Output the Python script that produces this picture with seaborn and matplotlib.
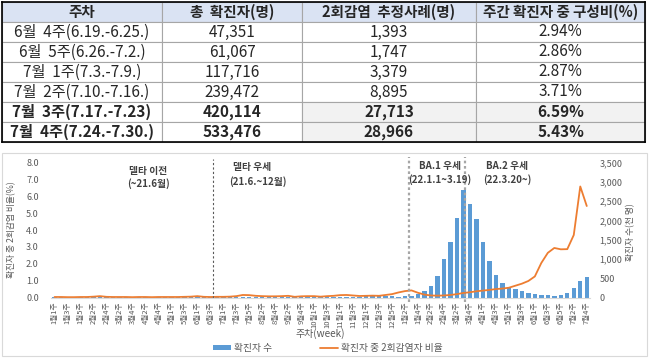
import matplotlib
matplotlib.use("Agg")
import matplotlib.pyplot as plt
import seaborn as sns
import numpy as np
import pandas as pd
from matplotlib.patches import Rectangle, Patch
from matplotlib.lines import Line2D

# ---------------- data ----------------
# table
table_headers = ["주차", "총  확진자(명)", "2회감염  추정사례(명)", "주간 확진자 중 구성비(%)"]
table_weeks = ["6월  4주(6.19.-6.25.)", "6월  5주(6.26.-7.2.)", "7월  1주(7.3.-7.9.)",
               "7월  2주(7.10.-7.16.)", "7월  3주(7.17.-7.23)", "7월  4주(7.24.-7.30.)"]
table_total = ["47,351", "61,067", "117,716", "239,472", "420,114", "533,476"]
table_reinf = ["1,393", "1,747", "3,379", "8,895", "27,713", "28,966"]
table_share = ["2.94%", "2.86%", "2.87%", "3.71%", "6.59%", "5.43%"]

# weeks per month (2021, 2022 up to July)
weeks_2021 = [5, 4, 4, 5, 4, 4, 5, 4, 5, 4, 4, 5]
weeks_2022 = [4, 4, 5, 4, 4, 5, 4]
week_labels = [f"{m}월{w}주" for counts in (weeks_2021, weeks_2022)
               for m, n in enumerate(counts, 1) for w in range(1, n + 1)]

# weekly confirmed cases (thousand)
cases_2021 = [6.9, 5.6, 3.8, 2.8, 3.3, 2.6, 2.6, 3.5, 2.8, 2.8,
              3.1, 3.1, 3.0, 3.4, 4.3, 4.4, 4.5, 4.4, 3.9, 4.0,
              3.9, 3.7, 3.9, 3.9, 3.2, 3.9, 5.0, 8.5, 10.5, 10.8,
              10.6, 10.4, 11.9, 12.7, 12.2, 11.5, 12.3, 12.5, 15.5, 17.8,
              13.5, 11.6, 10.5, 12.0, 15.0, 16.5, 19.9, 24.2, 31.9, 44.5,
              49.0, 45.0, 31.9]
cases_2022 = [21.7, 27.0, 41.0, 88.6, 163, 310, 560, 990, 1440, 2060,
              2790, 2430, 2040, 1440, 960, 575, 365, 265, 225, 175,
              125, 82, 68, 53, 47.351, 61.067, 117.716, 239.472, 420.114, 533.476]

# share of reinfection among confirmed (%)
ratio_2021 = [0.03, 0.03, 0.02, 0.02, 0.03, 0.03, 0.05, 0.08, 0.04, 0.03,
              0.03, 0.03, 0.02, 0.03, 0.03, 0.02, 0.03, 0.03, 0.03, 0.03,
              0.04, 0.05, 0.08, 0.04, 0.03, 0.04, 0.04,
              0.05, 0.08, 0.15, 0.14, 0.10, 0.08, 0.07, 0.07, 0.08, 0.10,
              0.04, 0.07, 0.08, 0.08, 0.05, 0.08, 0.10, 0.14, 0.15, 0.12,
              0.09, 0.10, 0.11, 0.10, 0.15, 0.20]
ratio_2022 = [0.30, 0.38, 0.42, 0.28, 0.17, 0.12, 0.11, 0.12, 0.15, 0.20,
              0.27, 0.31, 0.37, 0.41, 0.45, 0.50, 0.53, 0.58, 0.70, 0.82,
              0.98, 1.25, 2.05, 2.65, 2.94, 2.86, 2.87, 3.71, 6.59, 5.43]

period_names = ["델타 이전", "델타 우세", "BA.1 우세", "BA.2 우세"]
period_ranges = ["(~21.6월)", "(21.6.~12월)", "(22.1.1~3.19)", "(22.3.20~)"]

# ---------------- style ----------------
sns.set_style("white")
plt.rcParams['font.family'] = ['Noto Sans CJK KR', 'DejaVu Sans']

W, H = 650, 359
def fy(py):
    return 1 - py / H

BLUE = "#5B9BD5"
ORANGE = "#ED7D31"
GRAY = "#595959"

fig = plt.figure(figsize=(W / 100, H / 100), dpi=100)

# ---------------- table ----------------
axt = fig.add_axes([2 / W, fy(142), 643 / W, 140 / H])
axt.set_xticks([]); axt.set_yticks([])
for s in axt.spines.values():
    s.set_color("black"); s.set_linewidth(1.2); s.set_zorder(5)
rows = [list(r) for r in zip(table_weeks, table_total, table_reinf, table_share)]
colw = np.array([160, 140, 174, 169]) / 643
tbl = axt.table(cellText=rows, colLabels=table_headers, colWidths=colw,
                bbox=[0, 0, 1, 1], cellLoc='center')
tbl.auto_set_font_size(False)
tbl.set_fontsize(11)
for (r, c), cell in tbl.get_celld().items():
    cell.set_edgecolor("#a6a6a6")
    cell.set_linewidth(0.8)
    txt = cell.get_text()
    if r == 0:
        cell.set_facecolor("#dae3f3")
        txt.set_fontweight("bold")
        txt.set_fontsize(10.5)
    if r >= 5:
        txt.set_fontweight("bold")
        if c >= 2:
            cell.set_facecolor("#f2f2f2")

# ---------------- chart ----------------
df = pd.DataFrame({
    "week": np.arange(len(week_labels)),
    "label": week_labels,
    "cases": cases_2021 + cases_2022,
    "ratio": ratio_2021 + ratio_2022,
})

ax = fig.add_axes([51.3 / W, fy(297.5), (590 - 51.3) / W, (297.5 - 162.7) / H])
ax2 = ax.twinx()

sns.barplot(data=df, x="week", y="cases", ax=ax2, color=BLUE, width=0.68,
            saturation=1, linewidth=0)
sns.lineplot(data=df, x="week", y="ratio", ax=ax, color=ORANGE, lw=1.3)

ax.set_zorder(ax2.get_zorder() + 1)
ax.patch.set_visible(False)

ax.set_xlim(-0.5, len(week_labels) - 0.5)
ax.set_ylim(0, 8)
ax2.set_ylim(0, 3500)

ax.set_yticks(np.arange(0, 8.01, 1))
ax.set_yticklabels([f"{v:.1f}" for v in np.arange(0, 8.01, 1)])
ax2.set_yticks(np.arange(0, 3501, 500))
ax2.set_yticklabels([f"{v:,}" for v in range(0, 3501, 500)])
ax.tick_params(axis='y', length=0, labelsize=6.5, labelcolor=GRAY, pad=9)
ax2.tick_params(axis='y', length=0, labelsize=6.5, labelcolor=GRAY, pad=7)

ax.set_xticks(df["week"][::2])
ax.set_xticklabels(df["label"][::2], rotation=90)
ax.tick_params(axis='x', length=0, labelsize=5.5, labelcolor=GRAY, pad=3)

for a in (ax, ax2):
    for s in a.spines.values():
        s.set_visible(False)
ax.spines['bottom'].set_visible(True)
ax.spines['bottom'].set_color("#d9d9d9")
ax.spines['bottom'].set_linewidth(0.8)

ax.set_xlabel("")
ax2.set_xlabel("")
ax.set_ylabel("확진자 중 2회감염 비율(%)", fontsize=6.3, color=GRAY, rotation=90)
ax.yaxis.set_label_coords(-0.0655, 0.5)
ax2.set_ylabel("확진자 수(천 명)", fontsize=6.3, color=GRAY, rotation=90)
ax2.yaxis.set_label_coords(1.067, 0.486)

fig.text(320 / W, fy(334), "주차(week)", fontsize=7.2, color=GRAY, ha='center', va='center')

# period separators
ax.axvline(24.4, ymin=0, ymax=1.03, color="#595959", lw=0.8, ls=(0, (2, 2)), clip_on=False)
ax.axvline(54.6, ymin=-0.03, ymax=1.04, color="#a6a6a6", lw=1.6, ls=(0, (1.2, 1.2)), clip_on=False)
ax.axvline(63.3, ymin=-0.03, ymax=1.04, color="#a6a6a6", lw=1.6, ls=(0, (1.2, 1.2)), clip_on=False)

name_pos = [(14.4, 7.5), (30.4, 7.75), (59.4, 7.8), (69.7, 7.8)]
range_pos = [(14.4, 6.75), (31.4, 6.85), (59.3, 7.0), (69.8, 7.0)]
for (x, y), t in zip(name_pos, period_names):
    ax.text(x, y, t, fontsize=7, color="#404040", ha='center', va='center', fontweight='bold')
for (x, y), t in zip(range_pos, period_ranges):
    ax.text(x, y, t, fontsize=7, color="#404040", ha='center', va='center', fontweight='bold')

# legend
handles = [Patch(facecolor=BLUE, edgecolor='none'), Line2D([], [], color=ORANGE, lw=1.3)]
leg = fig.legend(handles, ["확진자 수", "확진자 중 2회감염자 비율"], loc='center',
                 bbox_to_anchor=(328 / W, fy(348)), ncol=2, frameon=False,
                 fontsize=7, columnspacing=5, handlelength=1.8, handleheight=0.5,
                 handletextpad=0.3)
for t in leg.get_texts():
    t.set_color(GRAY)

# chart frame
fig.add_artist(Rectangle((2 / W, fy(356)), 645 / W, (356 - 153) / H,
                         transform=fig.transFigure, fill=False, ec="#d9d9d9", lw=0.8))

fig.savefig("out.png", dpi=100)
